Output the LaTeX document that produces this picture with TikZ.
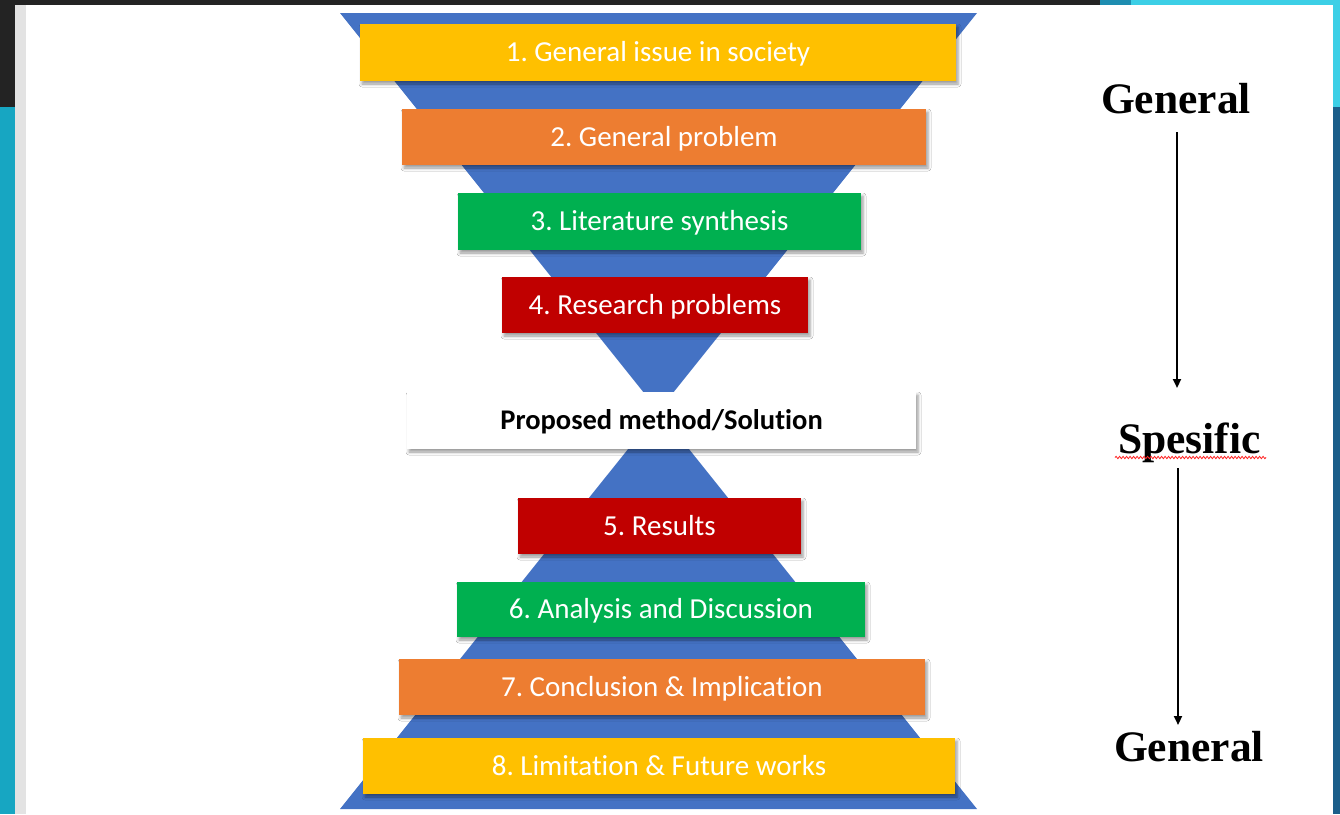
\documentclass[tikz,border=0pt]{standalone}
\usepackage{fontspec}
\setmainfont[Ligatures=NoCommon]{Carlito}
\newfontfamily\tnr{Liberation Serif}
\frenchspacing
\usetikzlibrary{shadows.blur,decorations.pathmorphing,arrows.meta}
\definecolor{hgblue}{HTML}{4472C4}
\definecolor{byellow}{HTML}{FFC000}
\definecolor{borange}{HTML}{ED7D31}
\definecolor{bgreen}{HTML}{00B050}
\definecolor{bred}{HTML}{C00000}
\definecolor{darkbar}{HTML}{232323}
\definecolor{tealstrip}{HTML}{17A6C2}
\definecolor{greystrip}{HTML}{E3E3E3}
\definecolor{cyanbar}{HTML}{3CCFE6}
\definecolor{midteal}{HTML}{1E8DB0}
\definecolor{deepblue}{HTML}{1B5E8A}
\tikzset{
  box/.style={rectangle, inner sep=0pt, text=white, font=\fontsize{29}{31}\selectfont,
    text height=20pt, text depth=1.6pt,
    blur shadow={shadow xshift=2pt, shadow yshift=-3pt, shadow blur radius=3pt, shadow opacity=40}},
  sidelabel/.style={anchor=base, font=\tnr\bfseries\fontsize{43.5}{45}\selectfont, inner sep=0pt},
  arr/.style={line width=2pt, -{Triangle[length=9pt,width=8pt]}}
}
\begin{document}
\begin{tikzpicture}[x=1pt,y=-1pt]
\useasboundingbox (0,0) rectangle (1340,814);
% window background
\fill[white] (0,0) rectangle (1340,814);
\fill[darkbar] (0,0) rectangle (1100,5);
\fill[midteal] (1100,0) rectangle (1131,5);
\fill[cyanbar] (1131,0) rectangle (1340,5);
\fill[darkbar] (0,0) rectangle (15,107);
\fill[tealstrip] (0,107) rectangle (15,814);
\fill[greystrip] (15,5) rectangle (26,814);
\fill[cyanbar] (1333,5) rectangle (1340,107);
\fill[deepblue] (1333,107) rectangle (1340,814);
% hourglass
\fill[hgblue] (340,13) -- (977,13) -- (658.5,411) -- cycle;
\fill[hgblue] (340,809) -- (977,809) -- (658.5,411) -- cycle;
% boxes
\node[box, fill=byellow, minimum width=596pt, minimum height=57pt] (b1) at (658,52.5) {1. General issue in society};
\node[box, fill=borange, minimum width=524pt, minimum height=56pt] (b2) at (664,137) {2. General problem};
\node[box, fill=bgreen, minimum width=403pt, minimum height=57pt] (b3) at (659.5,221.5) {3. Literature synthesis};
\node[box, fill=bred, minimum width=306pt, minimum height=56pt] (b4) at (655,305) {4. Research problems};
\node[box, fill=white, text=black, font=\bfseries\fontsize{28.5}{31}\selectfont, minimum width=509pt, minimum height=57pt] (pm) at (661.5,420.5) {Proposed method/Solution};
\node[box, fill=bred, minimum width=283pt, minimum height=56pt] (b5) at (659.5,526) {5. Results};
\node[box, fill=bgreen, minimum width=408pt, minimum height=55pt] (b6) at (661,609.5) {6. Analysis and Discussion};
\node[box, fill=borange, minimum width=526pt, minimum height=56pt] (b7) at (662,687) {7. Conclusion \& Implication};
\node[box, fill=byellow, minimum width=592pt, minimum height=56pt] (b8) at (659,766) {8. Limitation \& Future works};
% side labels
\node[sidelabel] (g1) at (1176,113) {General};
\node[sidelabel] (sp) at (1189.5,453) {Spesific};
\node[sidelabel] (g2) at (1189,761) {General};
\coordinate (a1s) at (1177,132);
\coordinate (a1e) at (1177,388);
\coordinate (a2s) at (1178,468);
\coordinate (a2e) at (1178,725);
\draw[arr] (a1s) -- (a1e);
\draw[arr] (a2s) -- (a2e);
\coordinate (ul1) at (1115,457.5);
\coordinate (ul2) at (1266,457.5);
\draw[red!85!white, line width=0.8pt, decorate, decoration={snake, amplitude=1.2pt, segment length=3.5pt}] (ul1) -- (ul2);
\end{tikzpicture}
\end{document}
